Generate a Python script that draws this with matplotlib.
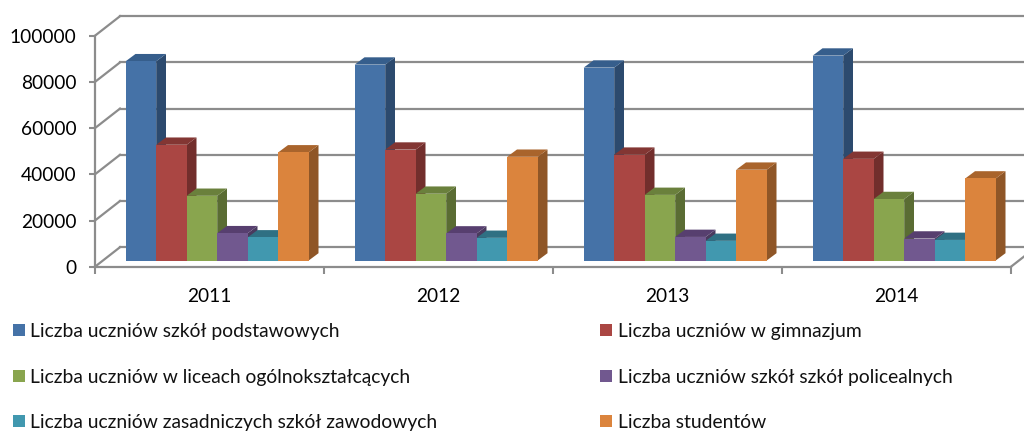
import matplotlib
matplotlib.use('Agg')
import matplotlib.pyplot as plt
from matplotlib.patches import Polygon, Rectangle
from matplotlib.transforms import ScaledTranslation

plt.rcParams['font.family'] = ['Lato', 'DejaVu Sans']

# values
years = ['2011', '2012', '2013', '2014']
podstawowe = [86250, 84800, 83500, 88700]
gimnazjum = [50100, 48000, 45800, 44000]
licea = [28000, 28900, 28400, 26600]
policealne = [11800, 11700, 10200, 9500]
zawodowe = [10000, 9800, 8500, 8900]
studenci = [46800, 44900, 39300, 35500]

series = [podstawowe, gimnazjum, licea, policealne, zawodowe, studenci]
labels = ['Liczba uczniów szkół podstawowych', 'Liczba uczniów w gimnazjum',
          'Liczba uczniów w liceach ogólnokształcących', 'Liczba uczniów szkół szkół policealnych',
          'Liczba uczniów zasadniczych szkół zawodowych', 'Liczba studentów']
front = ['#4572A7', '#AA4643', '#89A54E', '#71588F', '#4198AF', '#DB843D']
side = ['#2C4A6E', '#722E2C', '#5A6C33', '#4A3A5E', '#2A6373', '#8F5627']
top = ['#365E8C', '#833633', '#6A803C', '#573F6F', '#2F7083', '#A9642C']

W, H = 1024, 432
GRAY = '#8C8C8C'
fig = plt.figure(figsize=(W / 100, H / 100), dpi=100)
# axes box is the front plane of the 3d look, pixel numbers from the reference
x0, x1, y0, y1 = 95, 1011, 266.7, 35.7
ax = fig.add_axes([x0 / W, 1 - y0 / H, (x1 - x0) / W, (y0 - y1) / H])
ax.set_xlim(0, 4)
ax.set_ylim(0, 100000)
ax.patch.set_visible(False)

px_x = 4 / (x1 - x0)
px_y = 100000 / (y0 - y1)

# back wall gridlines and the diagonals coming from the y ticks
yticks = [0, 20000, 40000, 60000, 80000, 100000]
wall_dx, wall_dy = 25 * px_x, 19.5 * px_y
for v in yticks:
    ax.plot([0, wall_dx], [v, v + wall_dy], color=GRAY, lw=1.6, clip_on=False, zorder=1)
    ax.plot([wall_dx, 4 + wall_dx], [v + wall_dy, v + wall_dy], color=GRAY, lw=1.6,
            clip_on=False, zorder=1)
ax.plot([4, 4 + wall_dx], [0, wall_dy], color=GRAY, lw=1.6, clip_on=False, zorder=1)

# bars, every face shifted onto the floor of the chart
shift = ax.transData + ScaledTranslation(7.7 / 100, 6.2 / 100, fig.dpi_scale_trans)
w = 30.5 * px_x
dx, dy = 9.8 * px_x, 7.3 * px_y
z = 3
for i in range(len(years)):
    for j, vals in enumerate(series):
        v = vals[i]
        left = i + 0.5 + (j - 3) * w
        ax.add_patch(Rectangle((left, 0), w, v, facecolor=front[j], edgecolor='none',
                               transform=shift, zorder=z + 1, clip_on=False))
        ax.add_patch(Polygon([(left + w, 0), (left + w + dx, dy), (left + w + dx, v + dy), (left + w, v)],
                             facecolor=side[j], edgecolor='none', transform=shift, zorder=z, clip_on=False))
        ax.add_patch(Polygon([(left, v), (left + dx, v + dy), (left + w + dx, v + dy), (left + w, v)],
                             facecolor=top[j], edgecolor='none', transform=shift, zorder=z, clip_on=False))
        z += 2

# axes
for s in ['top', 'right']:
    ax.spines[s].set_visible(False)
for s in ['left', 'bottom']:
    ax.spines[s].set_color(GRAY)
    ax.spines[s].set_linewidth(1.6)
    ax.spines[s].set_zorder(2)
ax.set_yticks(yticks)
ax.set_yticklabels([str(v) for v in yticks], fontsize=13.8, color='black')
ax.tick_params(axis='y', color=GRAY, width=1.5, length=4, pad=9.5)
ax.set_xticks([0, 1, 2, 3, 4])
ax.set_xticklabels([])
ax.tick_params(axis='x', color=GRAY, width=1.5, length=5)
ax.set_xticks([0.5, 1.5, 2.5, 3.5], labels=years, minor=True)
ax.tick_params(axis='x', which='minor', length=0, labelsize=13.8, pad=15)

# legend, two columns
col_x = [13, 600]
row_y = [330, 376, 421]
for j, lab in enumerate(labels):
    lx = col_x[j % 2]
    ly = row_y[j // 2]
    fig.add_artist(Rectangle((lx / W, 1 - (ly + 6) / H), 12 / W, 12 / H, facecolor=front[j],
                             edgecolor='none', transform=fig.transFigure))
    fig.text((lx + 17.5) / W, 1 - (ly + 1.5) / H, lab, fontsize=13.9, va='center', ha='left', color='#111111')

fig.savefig('out.png', dpi=100)
